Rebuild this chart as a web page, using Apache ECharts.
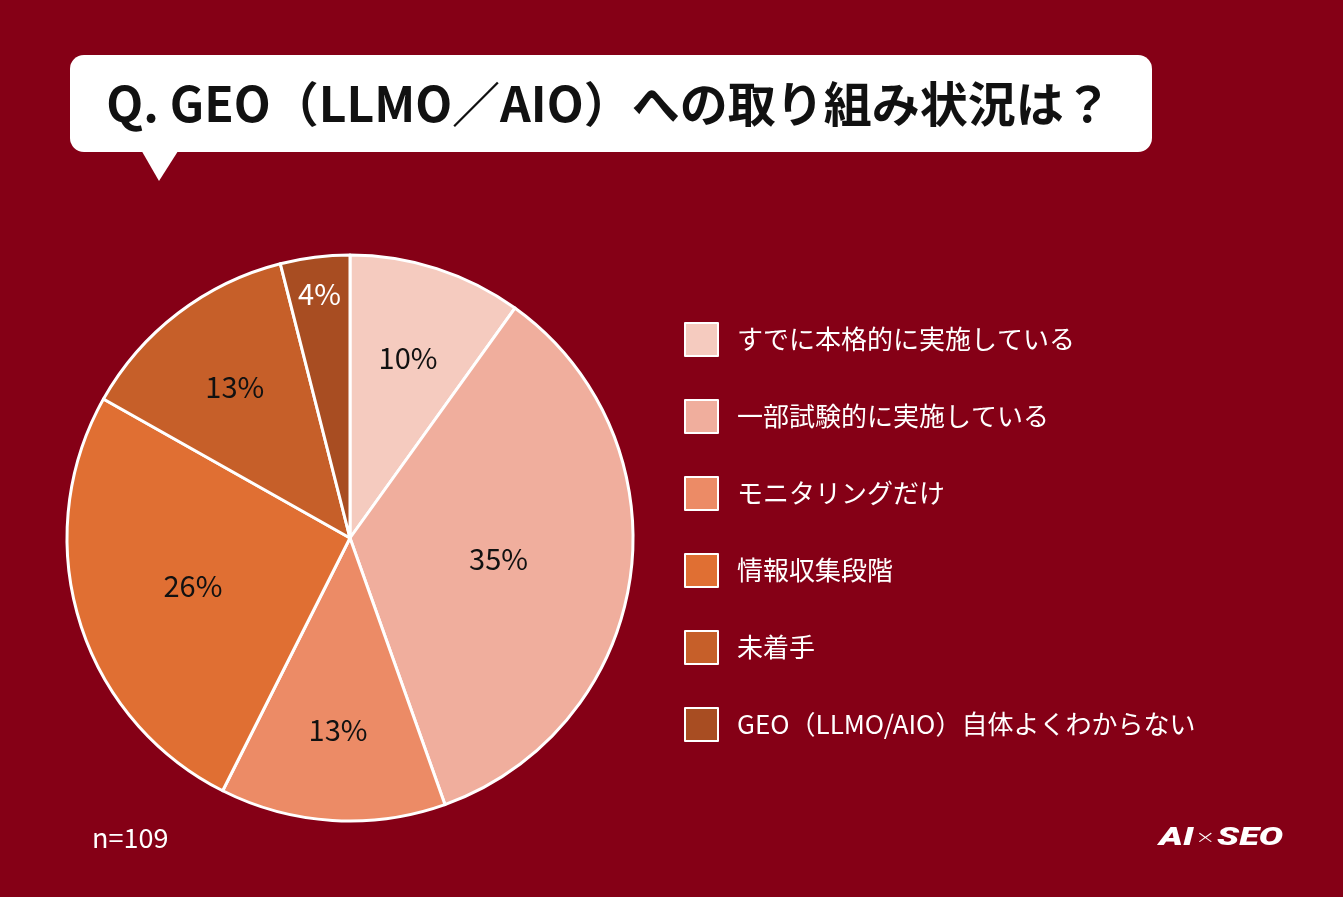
<!DOCTYPE html>
<html>
<head>
<meta charset="utf-8">
<script src="https://cdn.jsdelivr.net/npm/echarts@6/dist/echarts.min.js"></script>
<style>
html,body{margin:0;padding:0;background:#850016;}
#c{width:1343px;height:897px;}
</style>
</head>
<body>
<div id="c"></div>
<script>
// ---- data ----
const categories = [
  'すでに本格的に実施している',
  '一部試験的に実施している',
  'モニタリングだけ',
  '情報収集段階',
  '未着手',
  'GEO（LLMO/AIO）自体よくわからない'
];
const percentages = [10, 35, 13, 26, 13, 4];
const titleText = 'Q. GEO（LLMO／AIO）への取り組み状況は？';
const sampleNote = 'n=109';

// ---- styles ----
const sliceColors = ['#F5CBBF', '#F0AE9D', '#EC8B66', '#E06F33', '#C65F29', '#A84D22'];
const labelColors = ['#111111', '#111111', '#111111', '#111111', '#111111', '#ffffff'];
const labelRadiusFrac = [0.67, 0.53, 0.68, 0.58, 0.67, 0.87];
const pieCenter = [350, 538];
const pieRadius = 283;
const FONT = '"Noto Sans CJK JP", "Noto Sans", sans-serif';

const chart = echarts.init(document.getElementById('c'));
chart.setOption({
  backgroundColor: '#850016',
  animation: false,
  legend: {
    orient: 'vertical',
    left: 684,
    top: 322,
    padding: 0,
    itemWidth: 33,
    itemHeight: 33,
    itemGap: 42,
    icon: 'rect',
    selectedMode: false,
    data: categories,
    textStyle: {
      color: '#ffffff',
      fontSize: 26,
      fontFamily: FONT,
      padding: [0, 0, 0, 14]
    }
  },
  graphic: [
    {
      type: 'polygon',
      shape: { points: [[140, 148], [180, 148], [159, 181]] },
      style: { fill: '#ffffff' }
    },
    {
      type: 'rect',
      shape: { x: 70, y: 55, width: 1082, height: 97, r: 14 },
      style: { fill: '#ffffff' }
    },
    {
      type: 'text',
      x: 609, y: 104,
      style: {
        text: titleText,
        fill: '#111111',
        font: 'bold 48px ' + FONT,
        align: 'center',
        verticalAlign: 'middle'
      }
    },
    {
      type: 'text',
      x: 92, y: 838,
      style: {
        text: sampleNote,
        fill: '#ffffff',
        font: '27px ' + FONT,
        align: 'left',
        verticalAlign: 'middle'
      }
    },
    {
      type: 'text',
      x: 1159, y: 839,
      scaleX: 1.45,
      style: {
        text: '{a|AI}{b|×}{a|SEO}',
        align: 'left',
        verticalAlign: 'middle',
        rich: {
          a: { fill: '#ffffff', font: 'italic 900 25px Roboto, sans-serif' },
          b: { fill: '#ffffff', font: '300 17px "DejaVu Sans", sans-serif', padding: [0, 1, 0, 1] }
        }
      }
    }
  ],
  series: [{
    type: 'pie',
    center: pieCenter,
    radius: pieRadius,
    startAngle: 90,
    clockwise: true,
    avoidLabelOverlap: false,
    label: {
      show: true,
      position: 'inside',
      formatter: '{c}%',
      fontSize: 29,
      fontFamily: FONT
    },
    labelLine: { show: false },
    labelLayout: function (params) {
      const r = params.labelRect;
      const lx = r.x + r.width / 2;
      const ly = r.y + r.height / 2;
      const dx = lx - pieCenter[0];
      const dy = ly - pieCenter[1];
      const len = Math.sqrt(dx * dx + dy * dy) || 1;
      const rr = labelRadiusFrac[params.dataIndex] * pieRadius;
      return { x: pieCenter[0] + dx / len * rr, y: pieCenter[1] + dy / len * rr, align: 'center', verticalAlign: 'middle' };
    },
    itemStyle: { borderColor: '#ffffff', borderWidth: 3 },
    emphasis: { disabled: true },
    data: categories.map((name, i) => ({
      name: name,
      value: percentages[i],
      itemStyle: { color: sliceColors[i] },
      label: { color: labelColors[i] }
    }))
  }]
});
</script>
</body>
</html>
